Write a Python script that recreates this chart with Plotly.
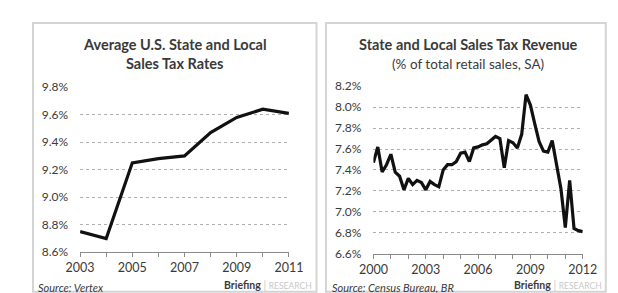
import plotly.graph_objects as go

# ---- Left chart data: Average U.S. State and Local Sales Tax Rates (%)
rate_years = [2003, 2004, 2005, 2006, 2007, 2008, 2009, 2010, 2011]
rate_values = [8.75, 8.70, 9.25, 9.28, 9.30, 9.47, 9.58, 9.64, 9.61]
left_tick_years = list(range(2003, 2012))
left_tick_labels = ["2003", "", "2005", "", "2007", "", "2009", "", "2011"]
left_y_ticks = [8.6, 8.8, 9.0, 9.2, 9.4, 9.6, 9.8]
left_y_labels = ["8.6%", "8.8%", "9.0%", "9.2%", "9.4%", "9.6%", "9.8%"]

# ---- Right chart data: State and Local Sales Tax Revenue (% of retail sales, SA), quarterly 2000Q1-2012Q1
rev_quarters = [2000 + q / 4 for q in range(49)]
rev_values = [7.47, 7.62, 7.38, 7.45, 7.55, 7.38, 7.34, 7.21, 7.32, 7.26,
              7.30, 7.28, 7.21, 7.29, 7.26, 7.24, 7.40, 7.45, 7.45, 7.48,
              7.56, 7.57, 7.48, 7.61, 7.62, 7.64, 7.65, 7.69, 7.72, 7.70,
              7.42, 7.68, 7.66, 7.61, 7.74, 8.12, 8.02, 7.84, 7.67, 7.58,
              7.57, 7.68, 7.45, 7.22, 6.85, 7.30, 6.84, 6.82, 6.81]
right_tick_years = list(range(2000, 2013))
right_tick_labels = ["2000", "", "", "2003", "", "", "2006", "", "", "2009", "", "", "2012"]
right_y_ticks = [6.6, 6.8, 7.0, 7.2, 7.4, 7.6, 7.8, 8.0, 8.2]
right_y_labels = ["6.6%", "6.8%", "7.0%", "7.2%", "7.4%", "7.6%", "7.8%", "8.0%", "8.2%"]

W, H = 618, 293
FONT = "Lato"
TXT = "#3a3a3a"


def px_x(p):
    return p / W


def px_y(p):
    return 1 - p / H


fig = go.Figure()
line_style = dict(color="#111111", width=3.2)
fig.add_trace(go.Scatter(x=rate_years, y=rate_values, mode="lines", line=line_style,
                         xaxis="x", yaxis="y", showlegend=False, hoverinfo="skip"))
fig.add_trace(go.Scatter(x=rev_quarters, y=rev_values, mode="lines", line=line_style,
                         xaxis="x2", yaxis="y2", showlegend=False, hoverinfo="skip"))

xdom1 = [px_x(60), px_x(279.5)]
ydom1 = [px_y(249), px_y(75)]
xdom2 = [px_x(368.3), px_x(588.3)]
ydom2 = [px_y(250.5), px_y(74)]

tickfont = dict(family=FONT, size=12.5, color=TXT)
ytickfont = dict(family=FONT, size=12, color=TXT)
xcommon = dict(showgrid=False, zeroline=False, showline=True, linecolor="#8a8a8a", linewidth=1,
               ticks="outside", ticklen=4, tickcolor="#8a8a8a", tickfont=tickfont, fixedrange=True)
ycommon = dict(showgrid=True, gridcolor="#b0b0b0", griddash="dot", gridwidth=1, zeroline=False,
               showline=False, ticks="", tickfont=ytickfont,
               ticklabelstandoff=11, fixedrange=True)

fig.update_layout(
    width=W, height=H, margin=dict(l=0, r=0, t=0, b=0),
    paper_bgcolor="white", plot_bgcolor="rgba(0,0,0,0)",
    xaxis=dict(domain=xdom1, anchor="y", range=[2003, 2011], tickvals=left_tick_years,
               ticktext=left_tick_labels, **xcommon),
    yaxis=dict(domain=ydom1, anchor="x", range=[8.6, 9.8], tickvals=left_y_ticks,
               ticktext=left_y_labels, **ycommon),
    xaxis2=dict(domain=xdom2, anchor="y2", range=[2000, 2012], tickvals=right_tick_years,
                ticktext=right_tick_labels, **xcommon),
    yaxis2=dict(domain=ydom2, anchor="x2", range=[6.6, 8.2], tickvals=right_y_ticks,
                ticktext=right_y_labels, **ycommon),
    xaxis3=dict(overlaying="x", anchor="y", range=[2003, 2011], tickvals=left_tick_years,
                showticklabels=False, showline=False, ticks="inside", ticklen=4,
                tickcolor="#8a8a8a", showgrid=False, zeroline=False, fixedrange=True),
    xaxis4=dict(overlaying="x2", anchor="y2", range=[2000, 2012], tickvals=right_tick_years,
                showticklabels=False, showline=False, ticks="inside", ticklen=4,
                tickcolor="#8a8a8a", showgrid=False, zeroline=False, fixedrange=True),
)

# panel borders
for x0, x1, y0, y1 in [(10.5, 308.5, 7.5, 290.5), (318.5, 612.5, 7.5, 290.5)]:
    fig.add_shape(type="rect", xref="paper", yref="paper",
                  x0=px_x(x0), x1=px_x(x1), y0=px_y(y1), y1=px_y(y0),
                  line=dict(color="#d4d4d4", width=2), fillcolor="rgba(0,0,0,0)", layer="below")

def note(text, x, y, size, xanchor="center", color=TXT, italic=False):
    fig.add_annotation(text=text, x=px_x(x), y=px_y(y), xref="paper", yref="paper",
                       xanchor=xanchor, yanchor="middle", showarrow=False,
                       font=dict(family=FONT, size=size, color=color,
                                 style="italic" if italic else "normal"))

# titles
note("<b>Average U.S. State and Local</b>", 160, 30, 14.5)
note("<b>Sales Tax Rates</b>", 160, 50, 14.5)
note("<b>State and Local Sales Tax Revenue</b>", 468, 30, 14.5)
note("(% of total retail sales, SA)", 468, 51, 13.5)

# sources
note("Source: Vertex", 14, 286, 11, xanchor="left", italic=True)
note("Source: Census Bureau, BR", 323, 286, 11, xanchor="left", italic=True)

brand = "<b>Briefing</b> <span style='color:#c8c8c8'>| <span style='font-size:8.5px'>RESEARCH</span></span>"
note(brand, 306, 283, 10.5, xanchor="right")
note(brand, 611, 283, 10.5, xanchor="right")

fig.write_html("out.html")
